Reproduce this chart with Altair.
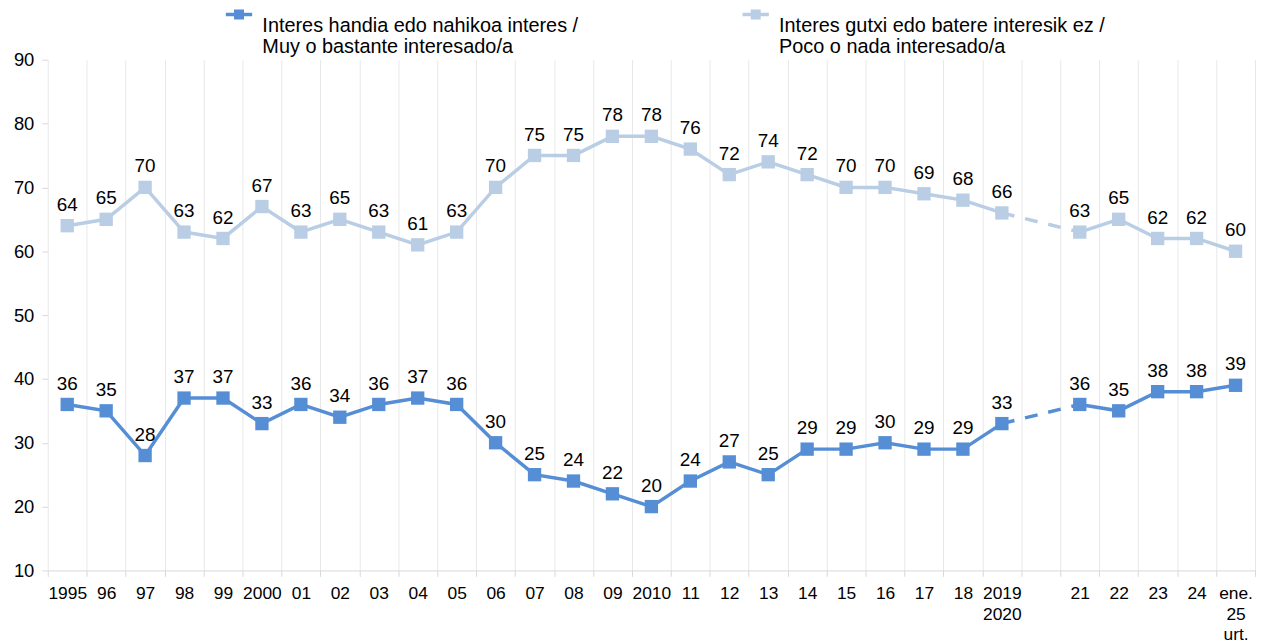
import altair as alt
import pandas as pd

cats = ["1995", "96", "97", "98", "99", "2000", "01", "02", "03", "04", "05", "06",
        "07", "08", "09", "2010", "11", "12", "13", "14", "15", "16", "17", "18",
        "2019|2020", "gap", "21", "22", "23", "24", "ene.|25|urt."]

high = [36, 35, 28, 37, 37, 33, 36, 34, 36, 37, 36, 30, 25, 24, 22, 20, 24, 27, 25,
        29, 29, 30, 29, 29, 33, None, 36, 35, 38, 38, 39]
low = [64, 65, 70, 63, 62, 67, 63, 65, 63, 61, 63, 70, 75, 75, 78, 78, 76, 72, 74,
       72, 70, 70, 69, 68, 66, None, 63, 65, 62, 62, 60]

series = ["Interes handia edo nahikoa interes /|Muy o bastante interesado/a",
          "Interes gutxi edo batere interesik ez /|Poco o nada interesado/a"]
colors = ["#558ED5", "#B9CDE5"]

FONT = "Liberation Sans"

rows = []
dash_rows = []
gap_i = cats.index("gap")
for s, vals in zip(series, [high, low]):
    for i, (c, v) in enumerate(zip(cats, vals)):
        if v is None:
            continue
        rows.append({"cat": c, "val": v, "serie": s, "seg": 0 if i < gap_i else 1})
        if i in (gap_i - 1, gap_i + 1):
            dash_rows.append({"cat": c, "val": v, "serie": s})
df = pd.DataFrame(rows)
ddf = pd.DataFrame(dash_rows)

x = alt.X("cat:N", sort=cats,
          scale=alt.Scale(type="band", domain=cats, paddingInner=0, paddingOuter=0),
          axis=alt.Axis(title=None, tickBand="extent", grid=True, gridColor="#e8e8e8",
                        domainColor="#d9d9d9", tickColor="#d9d9d9", tickSize=6,
                        labelAngle=0, labelFontSize=17.5, labelFont=FONT, labelColor="#000000",
                        labelLineHeight=21, labelBaseline="top", labelPadding=8,
                        labelOverlap=False, labelFlush=False, labelBound=False,
                        labelExpr="(!isString(datum.value) || datum.value == 'gap') ? '' : split(datum.value, '|')"))
y = alt.Y("val:Q", scale=alt.Scale(domain=[10, 90], nice=False, zero=False),
          axis=alt.Axis(title=None, values=list(range(10, 100, 10)), domain=False, grid=False,
                        tickColor="#d9d9d9", tickSize=6, labelFontSize=18.5, labelFont=FONT,
                        labelColor="#000000", labelPadding=8))

sym = "M-1,-0.98H1V-0.72H-1Z M-0.38,-1.23H0.38V-0.47H-0.38Z"

color = alt.Color("serie:N", scale=alt.Scale(domain=series, range=colors),
                  legend=alt.Legend(title=None, orient="none", legendX=179, legendY=-48,
                                    direction="horizontal", symbolType=sym, symbolSize=700,
                                    symbolStrokeWidth=0, labelFontSize=20, labelFont=FONT,
                                    labelColor="#000000", labelLimit=600, labelOffset=10,
                                    columnPadding=165, padding=0,
                                    labelExpr="split(datum.label, '|')"))

base = alt.Chart(df)
lines = base.mark_line(strokeWidth=3.5).encode(x=x, y=y, color=color, detail="seg:N")
dash = alt.Chart(ddf).mark_line(strokeWidth=3.5, strokeDash=[13, 11]).encode(x=x, y=y, color=color)
points = base.mark_point(shape="square", filled=True, size=180, opacity=1).encode(x=x, y=y, color=color)
texts = base.mark_text(fontSize=19, font=FONT, dy=-15, baseline="alphabetic", color="#000000").encode(
    x=x, y=y, text="val:Q")

chart = alt.layer(lines, dash, points, texts).properties(
    width=1215, height=514,
    autosize=alt.AutoSizeParams(type="none"),
    padding={"left": 40, "top": 50, "right": 1, "bottom": 72},
).configure_view(stroke=None)

chart.save("out.html", embed_options={"renderer": "svg", "actions": False})
